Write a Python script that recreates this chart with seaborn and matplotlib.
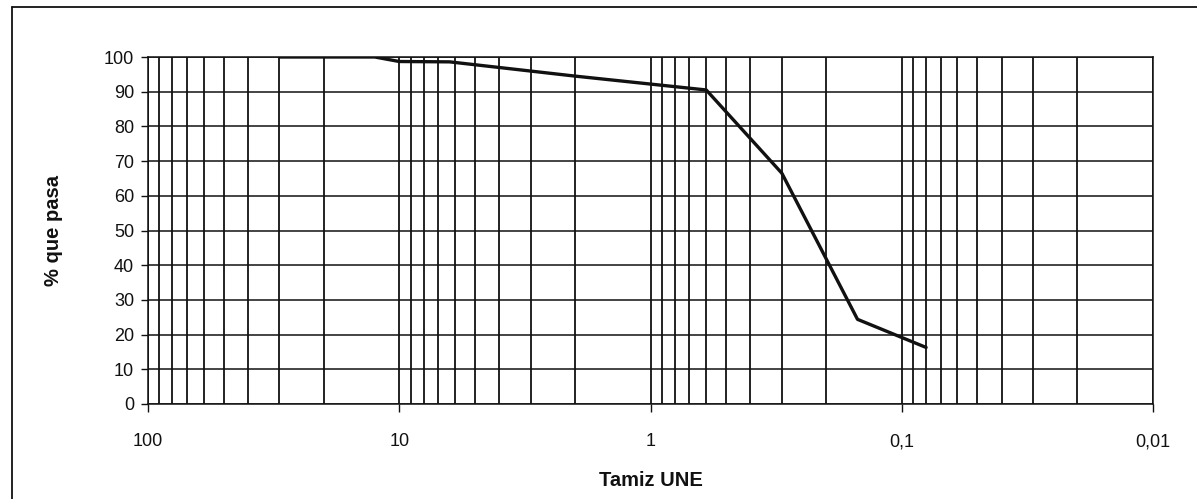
import matplotlib
matplotlib.use("Agg")
import matplotlib.pyplot as plt
from matplotlib.lines import Line2D
from matplotlib.ticker import FixedLocator, LogLocator, NullFormatter, FixedFormatter
import seaborn as sns
import pandas as pd

# Granulometric curve: sieve opening (mm) vs. percentage passing
sieve_mm = [30, 12.5, 10, 6.3, 2, 0.6, 0.3, 0.15, 0.08]
percent_passing = [100, 100, 98.7, 98.6, 94.5, 90.5, 66.5, 24.4, 16.3]

x_ticks = [100, 10, 1, 0.1, 0.01]
x_tick_labels = ["100", "10", "1", "0,1", "0,01"]
y_ticks = list(range(0, 101, 10))

sns.set_style("white")
plt.rcParams["font.family"] = ["Liberation Sans", "DejaVu Sans"]

W, H, DPI = 1197, 499, 100
INK = "#111111"
fig = plt.figure(figsize=(W / DPI, H / DPI), dpi=DPI)
ax = fig.add_axes([148 / W, 1 - 404 / H, (1153 - 148) / W, (404 - 57) / H])

df = pd.DataFrame({"Tamiz": sieve_mm, "Pasa": percent_passing})
sns.lineplot(data=df, x="Tamiz", y="Pasa", ax=ax, color=INK,
             linewidth=2.4, sort=False, zorder=5)

ax.set_xscale("log")
ax.set_xlim(100, 0.01)
ax.set_ylim(0, 100)

ax.xaxis.set_major_locator(FixedLocator(x_ticks))
ax.xaxis.set_major_formatter(FixedFormatter(x_tick_labels))
ax.xaxis.set_minor_locator(LogLocator(base=10, subs=range(2, 10), numticks=20))
ax.xaxis.set_minor_formatter(NullFormatter())
ax.yaxis.set_major_locator(FixedLocator(y_ticks))

ax.grid(True, which="both", axis="x", color=INK, linewidth=1.3)
ax.grid(True, which="major", axis="y", color=INK, linewidth=1.1)

ax.tick_params(axis="x", which="major", direction="out", length=6, width=1,
               color=INK, pad=15, labelsize=13, labelcolor=INK)
ax.tick_params(axis="x", which="minor", length=0)
ax.tick_params(axis="y", which="major", direction="out", length=5, width=1,
               color=INK, pad=5, labelsize=13, labelcolor=INK)
ax.xaxis.set_ticks_position("bottom")
ax.yaxis.set_ticks_position("left")

for side in ["left", "bottom", "top", "right"]:
    ax.spines[side].set_color(INK)
    ax.spines[side].set_linewidth(1.1)

ax.set_xlabel("Tamiz UNE", fontsize=14.5, fontweight="bold", color=INK)
ax.set_ylabel("% que pasa", fontsize=14.5, fontweight="bold", color=INK)
ax.xaxis.set_label_coords(0.5, -0.193)
ax.yaxis.set_label_coords(-0.085, 0.5)

# Outer chart frame (left and top edges)
fig.add_artist(Line2D([12 / W, 12 / W], [0, 1 - 7 / H], transform=fig.transFigure,
                      color=INK, linewidth=1.3))
fig.add_artist(Line2D([12 / W, 1], [1 - 7 / H, 1 - 7 / H], transform=fig.transFigure,
                      color=INK, linewidth=1.3))

fig.savefig("out.png", dpi=DPI, facecolor="white")
